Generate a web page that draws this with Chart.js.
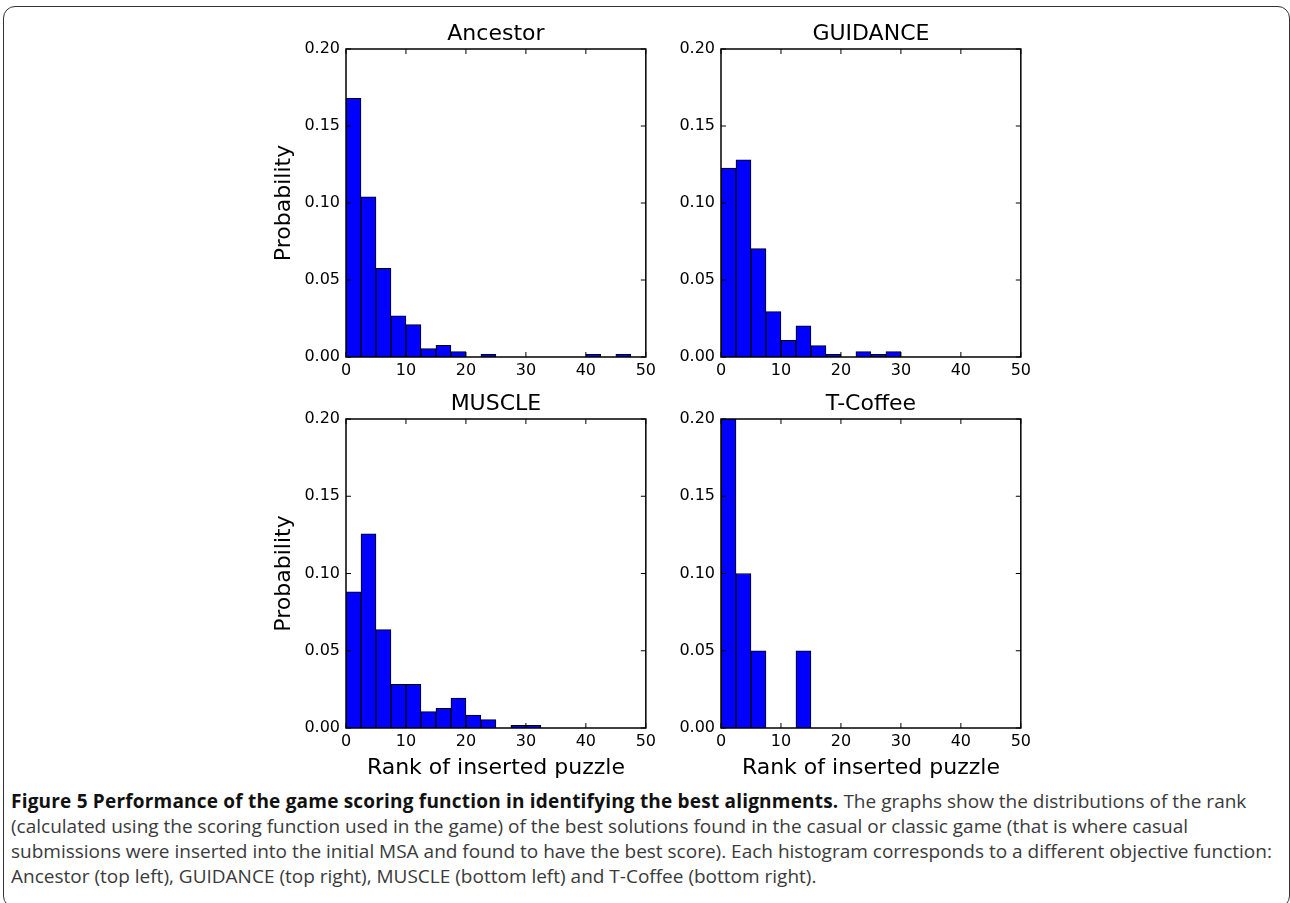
<!DOCTYPE html>
<html>
<head>
<meta charset="utf-8">
<script src="https://cdn.jsdelivr.net/npm/chart.js@4.4.1/dist/chart.umd.min.js"></script>
<style>
html,body{margin:0;padding:0;background:#fff;width:1290px;height:903px;overflow:hidden;position:relative;}
.frame{position:absolute;left:3px;top:6px;width:1287px;height:902px;border:1.5px solid #333;border-radius:12px;box-sizing:border-box;}
.panel{position:absolute;width:404px;}
.caption{position:absolute;left:11px;top:789px;font-family:"Open Sans";font-size:19px;line-height:25px;color:#3a3a3a;white-space:nowrap;}
.caption b{color:#111;font-weight:700;letter-spacing:0.2px;}
</style>
</head>
<body>
<div class="frame"></div>
<div class="panel" style="left:256px;top:0;height:387px"><canvas id="c-anc"></canvas></div>
<div class="panel" style="left:631px;top:0;height:387px"><canvas id="c-gui"></canvas></div>
<div class="panel" style="left:256px;top:370px;height:418px"><canvas id="c-mus"></canvas></div>
<div class="panel" style="left:631px;top:370px;height:418px"><canvas id="c-tco"></canvas></div>
<div class="caption">
<div><b>Figure 5 Performance of the game scoring function in identifying the best alignments.</b> The graphs show the distributions of the rank</div>
<div>(calculated using the scoring function used in the game) of the best solutions found in the casual or classic game (that is where casual</div>
<div>submissions were inserted into the initial MSA and found to have the best score). Each histogram corresponds to a different objective function:</div>
<div>Ancestor (top left), GUIDANCE (top right), MUSCLE (bottom left) and T-Coffee (bottom right).</div>
</div>
<script>
// ── data ─────────────────────────────────────────────
const binStarts = ["0","2.5","5","7.5","10","12.5","15","17.5","20","22.5",
                   "25","27.5","30","32.5","35","37.5","40","42.5","45","47.5"];
const ancestorValues = [0.168,0.104,0.0576,0.0267,0.021,0.0054,0.0076,0.0035,0,0.0017,
                        0,0,0,0,0,0,0.0017,0,0.0017,0];
const guidanceValues = [0.1226,0.128,0.0704,0.0295,0.0108,0.0202,0.0074,0.0017,0,0.0035,
                        0.0017,0.0035,0,0,0,0,0,0,0,0];
const muscleValues   = [0.0881,0.1257,0.0637,0.0283,0.0283,0.0106,0.0127,0.0194,0.0084,0.0054,
                        0,0.0017,0.0017,0,0,0,0,0,0,0];
const tcoffeeValues  = [0.20,0.10,0.05,0,0,0.05,0,0,0,0,
                        0,0,0,0,0,0,0,0,0,0];
const xTicks = [0,10,20,30,40,50];
const yTicks = [0,0.05,0.10,0.15,0.20];

// ── style ────────────────────────────────────────────
const FONT = "'DejaVu Sans', sans-serif";
const TICK_LEN = 5;

// ── frame + inward ticks (matplotlib look) ───────────
const framePlugin = {
    id: "frame",
    afterDatasetsDraw(c) {
        const { ctx, chartArea: a, scales } = c;
        ctx.save();
        ctx.strokeStyle = "#000";
        ctx.lineWidth = 1.5;
        ctx.strokeRect(a.left, a.top, a.right - a.left, a.bottom - a.top);
        ctx.lineWidth = 1;
        ctx.beginPath();
        scales.xr.ticks.forEach(t => {
            const px = scales.xr.getPixelForValue(t.value);
            ctx.moveTo(px, a.bottom); ctx.lineTo(px, a.bottom - TICK_LEN);
            ctx.moveTo(px, a.top);    ctx.lineTo(px, a.top + TICK_LEN);
        });
        scales.y.ticks.forEach(t => {
            const py = scales.y.getPixelForValue(t.value);
            ctx.moveTo(a.left, py);  ctx.lineTo(a.left + TICK_LEN, py);
            ctx.moveTo(a.right, py); ctx.lineTo(a.right - TICK_LEN, py);
        });
        ctx.stroke();
        ctx.restore();
    }
};

// ── chart builder ────────────────────────────────────
function makeHist(id, title, values, opt) {
    new Chart(document.getElementById(id), {
        type: "bar",
        data: {
            labels: binStarts,
            datasets: [{
                data: values, xAxisID: "x", yAxisID: "y",
                backgroundColor: "#0000ff", borderColor: "#000", borderWidth: 1,
                borderSkipped: "start", barPercentage: 1, categoryPercentage: 1,
            }]
        },
        options: {
            responsive: true, maintainAspectRatio: false, animation: false,
            layout: { padding: { left: 0, right: 0, top: 0, bottom: 0 } },
            plugins: {
                legend: { display: false },
                tooltip: { enabled: false },
                title: { display: false },
            },
            scales: {
                x: { display: false, offset: true, grid: { display: false } },
                // top axis only carries the panel title, centred over the plot box
                xt: {
                    type: "linear", position: "top", min: 0, max: 50, offset: false,
                    grid: { display: false, drawTicks: false }, border: { display: false },
                    ticks: { display: false },
                    title: { display: true, text: title, color: "#000",
                             font: { family: FONT, size: 22, lineHeight: 1 }, padding: { top: 23, bottom: 0 } },
                    afterFit: (s) => { s.height = 49; },
                },
                xr: {
                    type: "linear", position: "bottom", min: 0, max: 50, offset: false,
                    grid: { display: false, drawTicks: false }, border: { display: false },
                    afterBuildTicks: (axis) => { axis.ticks = xTicks.map(v => ({ value: v })); },
                    ticks: { color: "#000", font: { family: FONT, size: 16 }, padding: 4, maxRotation: 0,
                             callback: (v) => String(v) },
                    title: { display: opt.xTitle, text: "Rank of inserted puzzle", color: "#000",
                             font: { family: FONT, size: 22 }, padding: { top: 0, bottom: 7 } },
                    afterFit: (s) => { s.height = opt.xH; },
                },
                y: {
                    min: 0, max: 0.2,
                    grid: { display: false, drawTicks: false }, border: { display: false },
                    afterBuildTicks: (axis) => { axis.ticks = yTicks.map(v => ({ value: v })); },
                    ticks: { color: "#000", font: { family: FONT, size: 16 }, padding: 6,
                             callback: (v) => Number(v).toFixed(2) },
                    title: { display: opt.yTitle, text: "Probability", color: "#000",
                             font: { family: FONT, size: 22 }, padding: { top: 15, bottom: 0 } },
                    afterFit: (s) => { s.width = 90; },
                },
            },
        },
        plugins: [framePlugin],
    });
}

makeHist("c-anc", "Ancestor", ancestorValues, { yTitle: true,  xTitle: false, xH: 30 });
makeHist("c-gui", "GUIDANCE", guidanceValues, { yTitle: false, xTitle: false, xH: 30 });
makeHist("c-mus", "MUSCLE",   muscleValues,   { yTitle: true,  xTitle: true,  xH: 60 });
makeHist("c-tco", "T-Coffee", tcoffeeValues,  { yTitle: false, xTitle: true,  xH: 60 });
</script>
</body>
</html>
